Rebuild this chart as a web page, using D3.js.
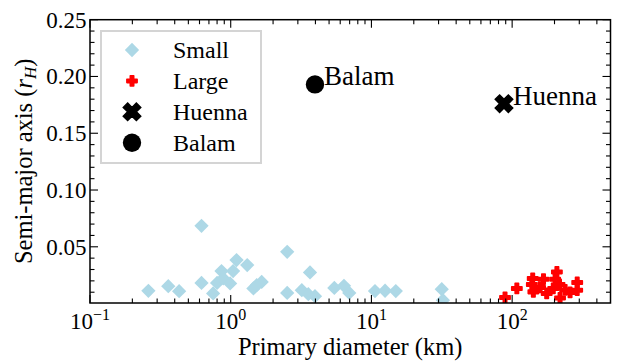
<!DOCTYPE html>
<html>
<head>
<meta charset="utf-8">
<script src="https://cdn.jsdelivr.net/npm/d3@7"></script>
</head>
<body style="margin:0">
<div id="chart"></div>
<script>
// small binaries: primary diameter (km) and semi-major axis (r_H)
const smallDiam = [0.26, 0.36, 0.43, 0.62, 0.62, 0.75, 0.80, 0.86, 0.885, 0.99, 1.04, 1.10, 1.31, 1.45, 1.53, 1.66,
  2.52, 2.52, 3.66, 3.20, 3.56, 3.97, 5.45, 6.38, 6.96, 10.6, 12.5, 14.9, 31.6, 32.2];
const smallSemi = [0.0112, 0.0153, 0.0109, 0.0685, 0.0182, 0.0089, 0.0182, 0.0286, 0.0221, 0.0177, 0.0286, 0.0383, 0.0339, 0.0133, 0.0162, 0.0191,
  0.0456, 0.0094, 0.0274, 0.0118, 0.0083, 0.0065, 0.0138, 0.0156, 0.0094, 0.0110, 0.0113, 0.0110, 0.0127, 0.0030];

// large binaries
const largeDiam = [89, 108, 140, 138, 141.5, 167, 208, 202, 196, 217, 176, 219, 258, 290, 290, 158, 238];
const largeSemi = [0.0054, 0.0133, 0.0221, 0.0168, 0.0103, 0.0215, 0.0279, 0.0215, 0.0133, 0.0168, 0.0089, 0.0050, 0.0098, 0.0186, 0.0118, 0.0142, 0.0120];

const huenna = { name: 'Huenna', diam: 87.5, semi: 0.176 };
const balam = { name: 'Balam', diam: 3.97, semi: 0.193 };

const xDecades = [-1, 0, 1, 2];
const yMajor = [0.05, 0.10, 0.15, 0.20, 0.25];

const width = 622, height = 361;
const margin = { left: 90, right: 11.5, top: 19.7, bottom: 58 };

const svg = d3.select('#chart').append('svg')
  .attr('width', width)
  .attr('height', height);

// every text gets the serif font set on itself
function txt(parent, size) {
  return parent.append('text')
    .attr('font-size', size)
    .style('font-family', '"Liberation Serif"');
}

const x = d3.scaleLog().domain([0.1, 500]).range([margin.left, width - margin.right]);
const y = d3.scaleLinear().domain([0.0005, 0.25]).range([height - margin.bottom, margin.top]);

const x0 = x.range()[0], x1 = x.range()[1];
const y0 = y.range()[0], y1 = y.range()[1];

svg.append('clipPath').attr('id', 'clip')
  .append('rect')
  .attr('x', x0).attr('y', y1)
  .attr('width', x1 - x0).attr('height', y0 - y1);

const plot = svg.append('g').attr('clip-path', 'url(#clip)');

// markers
const diamond = d3.symbol().type(d3.symbolSquare).size(102);
const plus = d3.symbol().type(d3.symbolCross).size(58);
const cross = d3.symbol().type(d3.symbolCross).size(190);

plot.selectAll('.small')
  .data(smallDiam.map((d, i) => [d, smallSemi[i]]))
  .enter().append('path')
  .attr('class', 'small')
  .attr('d', diamond)
  .attr('transform', d => `translate(${x(d[0])},${y(d[1])}) rotate(45)`)
  .attr('fill', 'lightblue');

plot.selectAll('.large')
  .data(largeDiam.map((d, i) => [d, largeSemi[i]]))
  .enter().append('path')
  .attr('class', 'large')
  .attr('d', plus)
  .attr('transform', d => `translate(${x(d[0])},${y(d[1])})`)
  .attr('fill', 'red')
  .attr('stroke', 'red')
  .attr('stroke-width', 1.6)
  .attr('stroke-linejoin', 'round');

plot.append('path')
  .attr('d', cross)
  .attr('transform', `translate(${x(huenna.diam)},${y(huenna.semi)}) rotate(45)`)
  .attr('fill', 'black')
  .attr('stroke', 'black')
  .attr('stroke-width', 1.5);

plot.append('circle')
  .attr('cx', x(balam.diam))
  .attr('cy', y(balam.semi))
  .attr('r', 9.2)
  .attr('fill', 'black');

// annotations
[balam, huenna].forEach(p => {
  txt(svg, 27)
    .attr('x', x(p.diam) + 9)
    .attr('y', y(p.semi) + 1)
    .text(p.name);
});

// ticks (inward on all four sides)
const majLen = 8, minLen = 4.5;
const ticks = svg.append('g').attr('stroke', '#000').attr('stroke-width', 1.1);

const xMinor = [];
xDecades.forEach(e => {
  for (let k = 2; k <= 9; k++) {
    const v = k * Math.pow(10, e);
    if (v < 500) xMinor.push(v);
  }
});
const xMajor = xDecades.map(e => Math.pow(10, e));

xMajor.forEach(v => {
  ticks.append('line').attr('x1', x(v)).attr('x2', x(v)).attr('y1', y0).attr('y2', y0 - majLen);
  ticks.append('line').attr('x1', x(v)).attr('x2', x(v)).attr('y1', y1).attr('y2', y1 + majLen);
});
xMinor.forEach(v => {
  ticks.append('line').attr('x1', x(v)).attr('x2', x(v)).attr('y1', y0).attr('y2', y0 - minLen);
  ticks.append('line').attr('x1', x(v)).attr('x2', x(v)).attr('y1', y1).attr('y2', y1 + minLen);
});

const yMinor = d3.range(1, 25).map(i => i / 100).filter(v => Math.round(v * 100) % 5 !== 0);
yMajor.forEach(v => {
  ticks.append('line').attr('x1', x0).attr('x2', x0 + majLen).attr('y1', y(v)).attr('y2', y(v));
  ticks.append('line').attr('x1', x1).attr('x2', x1 - majLen).attr('y1', y(v)).attr('y2', y(v));
});
yMinor.forEach(v => {
  ticks.append('line').attr('x1', x0).attr('x2', x0 + minLen).attr('y1', y(v)).attr('y2', y(v));
  ticks.append('line').attr('x1', x1).attr('x2', x1 - minLen).attr('y1', y(v)).attr('y2', y(v));
});

// frame
svg.append('rect')
  .attr('x', x0).attr('y', y1)
  .attr('width', x1 - x0).attr('height', y0 - y1)
  .attr('fill', 'none')
  .attr('stroke', '#000')
  .attr('stroke-width', 1.5);

// tick labels
yMajor.forEach(v => {
  txt(svg, 23)
    .attr('x', x0 - 3.5)
    .attr('y', y(v))
    .attr('dy', '0.34em')
    .attr('text-anchor', 'end')
    .text(d3.format('.2f')(v));
});

xDecades.forEach(e => {
  const t = txt(svg, 23)
    .attr('x', x(Math.pow(10, e)))
    .attr('y', 329)
    .attr('text-anchor', 'middle');
  t.append('tspan').text('10');
  t.append('tspan').attr('dy', -9).attr('font-size', 16).text(e < 0 ? '\u2212' + Math.abs(e) : e);
});

// axis labels
txt(svg, 24.5)
  .attr('x', (x0 + x1) / 2)
  .attr('y', 355)
  .attr('text-anchor', 'middle')
  .text('Primary diameter (km)');

const yl = txt(svg, 24.5)
  .attr('transform', `translate(32,${(y0 + y1) / 2}) rotate(-90)`)
  .attr('text-anchor', 'middle');
yl.append('tspan').text('Semi-major axis (');
yl.append('tspan').attr('font-style', 'italic').text('r');
yl.append('tspan').attr('font-style', 'italic').attr('font-size', 17).attr('dy', 4).text('H');
yl.append('tspan').attr('dy', -4).text(')');

// legend
const lg = svg.append('g');
lg.append('rect')
  .attr('x', 101).attr('y', 31)
  .attr('width', 160).attr('height', 132)
  .attr('fill', '#fff')
  .attr('stroke', '#d4d4d4')
  .attr('stroke-width', 2);

const legendItems = [
  { label: 'Small', kind: 'small' },
  { label: 'Large', kind: 'large' },
  { label: 'Huenna', kind: 'huenna' },
  { label: 'Balam', kind: 'balam' }
];
const ly = d3.scalePoint().domain(legendItems.map(d => d.label)).range([50, 142.7]);

legendItems.forEach(it => {
  const cy = ly(it.label), cx = 132;
  if (it.kind === 'small') {
    lg.append('path').attr('d', diamond).attr('transform', `translate(${cx},${cy}) rotate(45)`).attr('fill', 'lightblue');
  } else if (it.kind === 'large') {
    lg.append('path').attr('d', plus).attr('transform', `translate(${cx},${cy})`)
      .attr('fill', 'red').attr('stroke', 'red').attr('stroke-width', 1.6).attr('stroke-linejoin', 'round');
  } else if (it.kind === 'huenna') {
    lg.append('path').attr('d', cross).attr('transform', `translate(${cx},${cy}) rotate(45)`)
      .attr('fill', 'black').attr('stroke', 'black').attr('stroke-width', 1.5);
  } else {
    lg.append('circle').attr('cx', cx).attr('cy', cy).attr('r', 9.2).attr('fill', 'black');
  }
  txt(lg, 24)
    .attr('x', 173)
    .attr('y', cy)
    .attr('dy', '0.34em')
    .text(it.label);
});
</script>
</body>
</html>
